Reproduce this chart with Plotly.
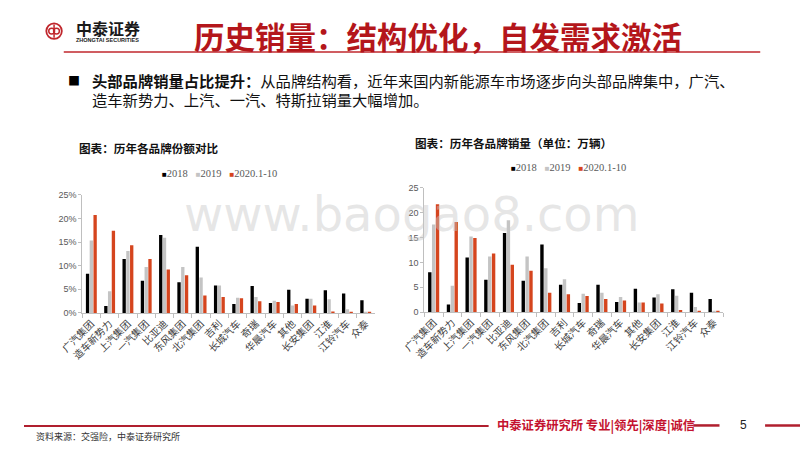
import plotly.graph_objects as go

# ---------------- data ----------------
categories = ["广汽集团", "造车新势力", "上汽集团", "一汽集团", "比亚迪", "东风集团", "北汽集团", "吉利",
              "长城汽车", "奇瑞", "华晨汽车", "其他", "长安集团", "江淮", "江铃汽车", "众泰"]
series_names = ["2018", "2019", "2020.1-10"]
series_colors = ["#000000", "#C4C4C4", "#D5451E"]

share_2018 = [8.3, 1.5, 11.4, 6.8, 16.5, 6.5, 14.0, 5.8, 1.9, 5.7, 2.1, 4.9, 3.0, 4.8, 4.1, 2.7]
share_2019 = [15.3, 4.6, 13.1, 9.7, 15.9, 9.7, 7.5, 5.8, 3.2, 3.4, 2.6, 1.6, 3.0, 2.9, 0.8, 0.1]
share_2020 = [20.7, 17.4, 14.3, 11.4, 9.2, 8.0, 3.7, 3.4, 3.1, 2.5, 2.3, 1.9, 1.6, 0.3, 0.1, 0.1]

sales_2018 = [8.0, 1.5, 11.0, 6.5, 15.9, 6.3, 13.6, 5.5, 1.8, 5.5, 2.0, 4.7, 2.9, 4.6, 3.9, 2.6]
sales_2019 = [17.6, 5.3, 15.2, 11.2, 18.5, 11.2, 8.8, 6.6, 3.7, 3.9, 3.0, 1.9, 3.6, 3.3, 1.0, 0.1]
sales_2020 = [21.7, 18.1, 14.9, 11.8, 9.5, 8.3, 3.9, 3.6, 3.2, 2.6, 2.3, 1.9, 1.7, 0.4, 0.1, 0.1]

y_ticks = [0, 5, 10, 15, 20, 25]
share_tick_labels = ["0%", "5%", "10%", "15%", "20%", "25%"]
sales_tick_labels = ["0", "5", "10", "15", "20", "25"]

title_text = "历史销量：结构优化，自发需求激活"
bullet_bold = "头部品牌销量占比提升："
bullet_line1 = "从品牌结构看，近年来国内新能源车市场逐步向头部品牌集中，广汽、"
bullet_line2 = "造车新势力、上汽、一汽、特斯拉销量大幅增加。"
chart1_title = "图表：历年各品牌份额对比"
chart2_title = "图表：历年各品牌销量（单位：万辆）"
source_text = "资料来源：交强险，中泰证券研究所"
footer_text = "中泰证券研究所 专业|领先|深度|诚信"
page_no = "5"
watermark = "www.baogao8.com"

W, H = 800, 450
def px(x): return x / W
def py(y): return 1 - y / H

CJK = "Noto Sans CJK SC"
fig = go.Figure()

for name, color, v1, v2 in zip(series_names, series_colors,
                                [share_2018, share_2019, share_2020],
                                [sales_2018, sales_2019, sales_2020]):
    fig.add_trace(go.Bar(x=categories, y=v1, name=name, marker_color=color,
                         marker_line_width=0, xaxis="x", yaxis="y", showlegend=False))
    fig.add_trace(go.Bar(x=categories, y=v2, name=name, marker_color=color,
                         marker_line_width=0, xaxis="x2", yaxis="y2", showlegend=False))

xcommon = dict(type="category", showline=True, linecolor="#BFBFBF", linewidth=1,
               ticks="outside", tickson="boundaries", ticklen=4, tickcolor="#BFBFBF",
               tickangle=-45, tickfont=dict(family=CJK, size=10, color="#404040"),
               showgrid=False, zeroline=False, fixedrange=True)
ycommon = dict(range=[0, 25], tickvals=y_ticks, showline=True, linecolor="#BFBFBF",
               linewidth=1, ticks="outside", ticklen=3, tickcolor="#BFBFBF",
               tickfont=dict(family="Liberation Sans", size=9, color="#595959"),
               showgrid=False, zeroline=False, fixedrange=True)

fig.update_layout(
    width=W, height=H, margin=dict(l=0, r=0, t=0, b=0),
    paper_bgcolor="white", plot_bgcolor="white",
    barmode="group", bargap=0.38, bargroupgap=0.12, showlegend=False,
    xaxis=dict(domain=[px(60), px(361.7)], anchor="y", **xcommon),
    yaxis=dict(domain=[py(315), py(194)], anchor="x", ticktext=share_tick_labels, **ycommon),
    xaxis2=dict(domain=[px(412.7), px(721)], anchor="y2", **xcommon),
    yaxis2=dict(domain=[py(314), py(187)], anchor="x2", ticktext=sales_tick_labels, **ycommon),
)

ann = []
def add_text(x, y, text, size, color="#000000", family=CJK, xanchor="left", yanchor="middle", **kw):
    ann.append(dict(x=px(x), y=py(y), xref="paper", yref="paper", text=text, showarrow=False,
                    xanchor=xanchor, yanchor=yanchor, align=xanchor if xanchor != "center" else "center",
                    borderpad=0,
                    font=dict(family=family, size=size, color=color), **kw))

# watermark
add_text(399, 214, watermark, 48, color="rgba(200,200,200,0.45)", family="DejaVu Sans",
         xanchor="center")

# header
add_text(174, 32, "<b>" + title_text + "</b>", 30.5, color="#B4161B")
add_text(53, 24, "<b>中泰证券</b>", 16, color="#1A1A1A")
add_text(53, 35.5, "<b>ZHONGTAI SECURITIES</b>", 5.5, color="#1A1A1A", family="Liberation Sans")

# bullet
add_text(44, 77, "■", 12, color="#000000")
add_text(69, 77, "<b>" + bullet_bold + "</b>" + bullet_line1, 15.3, color="#111111")
add_text(69, 96, bullet_line2, 15.3, color="#111111")

# chart titles
add_text(56, 146, "<b>" + chart1_title + "</b>", 11.6, color="#111111")
add_text(402, 141, "<b>" + chart2_title + "</b>", 11.6, color="#111111")

# legends
def legend_html():
    parts = []
    for n, c in zip(series_names, series_colors):
        parts.append(f"<span style='color:{c};font-size:8px'>■</span>{n}")
    return "   ".join(parts)
add_text(202, 172, legend_html(), 10.5, color="#595959", family="Liberation Serif", xanchor="center")
add_text(561, 166, legend_html(), 10.5, color="#595959", family="Liberation Serif", xanchor="center")

# footer
add_text(11, 441, source_text, 9, color="#333333")
add_text(487, 430, "<b>" + footer_text + "</b>", 12.3, color="#C4122F")
add_text(742, 430, page_no, 12, color="#222222", family="Liberation Sans", xanchor="center")

fig.update_layout(annotations=ann)

shapes = []
def line(x0, y0, x1, y1, color, w):
    shapes.append(dict(type="line", xref="paper", yref="paper", x0=px(x0), y0=py(y0),
                       x1=px(x1), y1=py(y1), line=dict(color=color, width=w)))
line(41, 48, 759, 48, "#C0272D", 1.5)
line(0, 430.5, 479, 430.5, "#B01F2E", 2)
line(690, 430, 717, 430, "#B01F2E", 2.5)
line(764, 430, 800, 430, "#B01F2E", 2.5)

# logo circles
def circle(cx, cy, r, color, w):
    shapes.append(dict(type="circle", xref="paper", yref="paper",
                       x0=px(cx - r), x1=px(cx + r), y0=py(cy + r), y1=py(cy - r),
                       line=dict(color=color, width=w)))
circle(31, 26.7, 8.0, "#C0272D", 1.8)
circle(28.5, 26.7, 3.0, "#C0272D", 1.5)
circle(33.5, 26.7, 3.0, "#C0272D", 1.5)
line(31, 20, 31, 33.5, "#C0272D", 1.5)

fig.update_layout(shapes=shapes)
fig.write_html("out.html", config={"displayModeBar": False},
               post_script="document.body.style.margin='0';document.body.style.overflow='hidden';")
